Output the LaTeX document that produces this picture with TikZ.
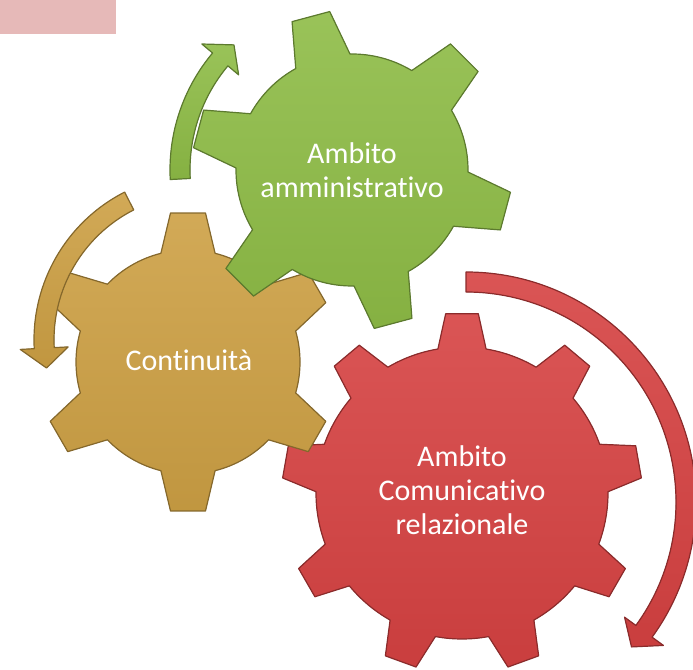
\documentclass[tikz,border=0pt]{standalone}
\usepackage{fontspec}
\setmainfont{Carlito}[Ligatures=NoCommon]
\usetikzlibrary{calc}

\definecolor{gearGreen}{RGB}{142,188,70}
\definecolor{gearGold}{RGB}{205,160,68}
\definecolor{gearRed}{RGB}{214,66,66}
\definecolor{titleBox}{RGB}{230,185,184}

\tikzset{
  gear/.style={top color=#1!90!white, bottom color=#1!94!black,
    draw=#1!65!black, line width=1.2pt, line join=round},
  gearText/.style={text=white, align=center, font=\fontsize{30}{34}\selectfont},
}

% #1 centre, #2 teeth, #3 first tooth, #4 body radius, #5 tip radius,
% #6 half angle at the base, #7 half angle at the tip, #8 colour
\newcommand{\gearshape}[8]{%
  \pgfmathsetmacro{\gstep}{360/#2}
  \pgfmathsetmacro{\ggap}{360/#2-2*#6}
  \begin{scope}[shift={(#1)}]
  \filldraw[gear=#8] (#3-#6:#4)
    \foreach \k [evaluate=\k as \a using #3+(\k-1)*\gstep,
                 evaluate=\k as \s using #3+(\k-1)*\gstep+#6] in {1,...,#2}
    { -- (\a-#7:#5) -- (\a+#7:#5) -- (\a+#6:#4)
      arc[start angle=\s, delta angle=\ggap, radius=#4] } -- cycle;
  \end{scope}
}

% #1 centre, #2 radius, #3 start angle, #4 end angle, #5 colour
\newcommand{\bentarrow}[5]{%
  \pgfmathsetmacro{\tipang}{#4+sign(#4-#3)*20/#2*57.3}
  \begin{scope}[shift={(#1)}]
  \filldraw[gear=#5] (#3:#2+10) arc[start angle=#3, end angle=#4, radius=#2+10]
    -- (#4:#2+24) -- (\tipang:#2) -- (#4:#2-24) -- (#4:#2-10)
    arc[start angle=#4, end angle=#3, radius=#2-10] -- cycle;
  \end{scope}
}

\begin{document}
\begin{tikzpicture}[x=1pt,y=1pt]
\useasboundingbox (0,0) rectangle (693,669);

\fill[titleBox] (0,635) rectangle (116,669);

% gears
\gearshape{462,176}{9}{90}{146}{180}{9.5}{5.2}{gearRed}
\gearshape{188,307}{6}{90}{112}{150}{14}{6.7}{gearGold}
\gearshape{352,499}{6}{105}{116}{160}{14}{7}{gearGreen}

% arrows round the gears
\bentarrow{352,499}{172}{183}{140}{gearGreen}
\bentarrow{200,329}{156}{117}{183}{gearGold}
\bentarrow{466,167}{220}{90}{-36}{gearRed}

\node[gearText] (amministrativo) at (352,499) {Ambito\\amministrativo};
\node[gearText] (continuita) at (189,309) {Continuità};
\node[gearText] (comunicativo) at (462,179) {Ambito\\Comunicativo\\relazionale};

\end{tikzpicture}
\end{document}
